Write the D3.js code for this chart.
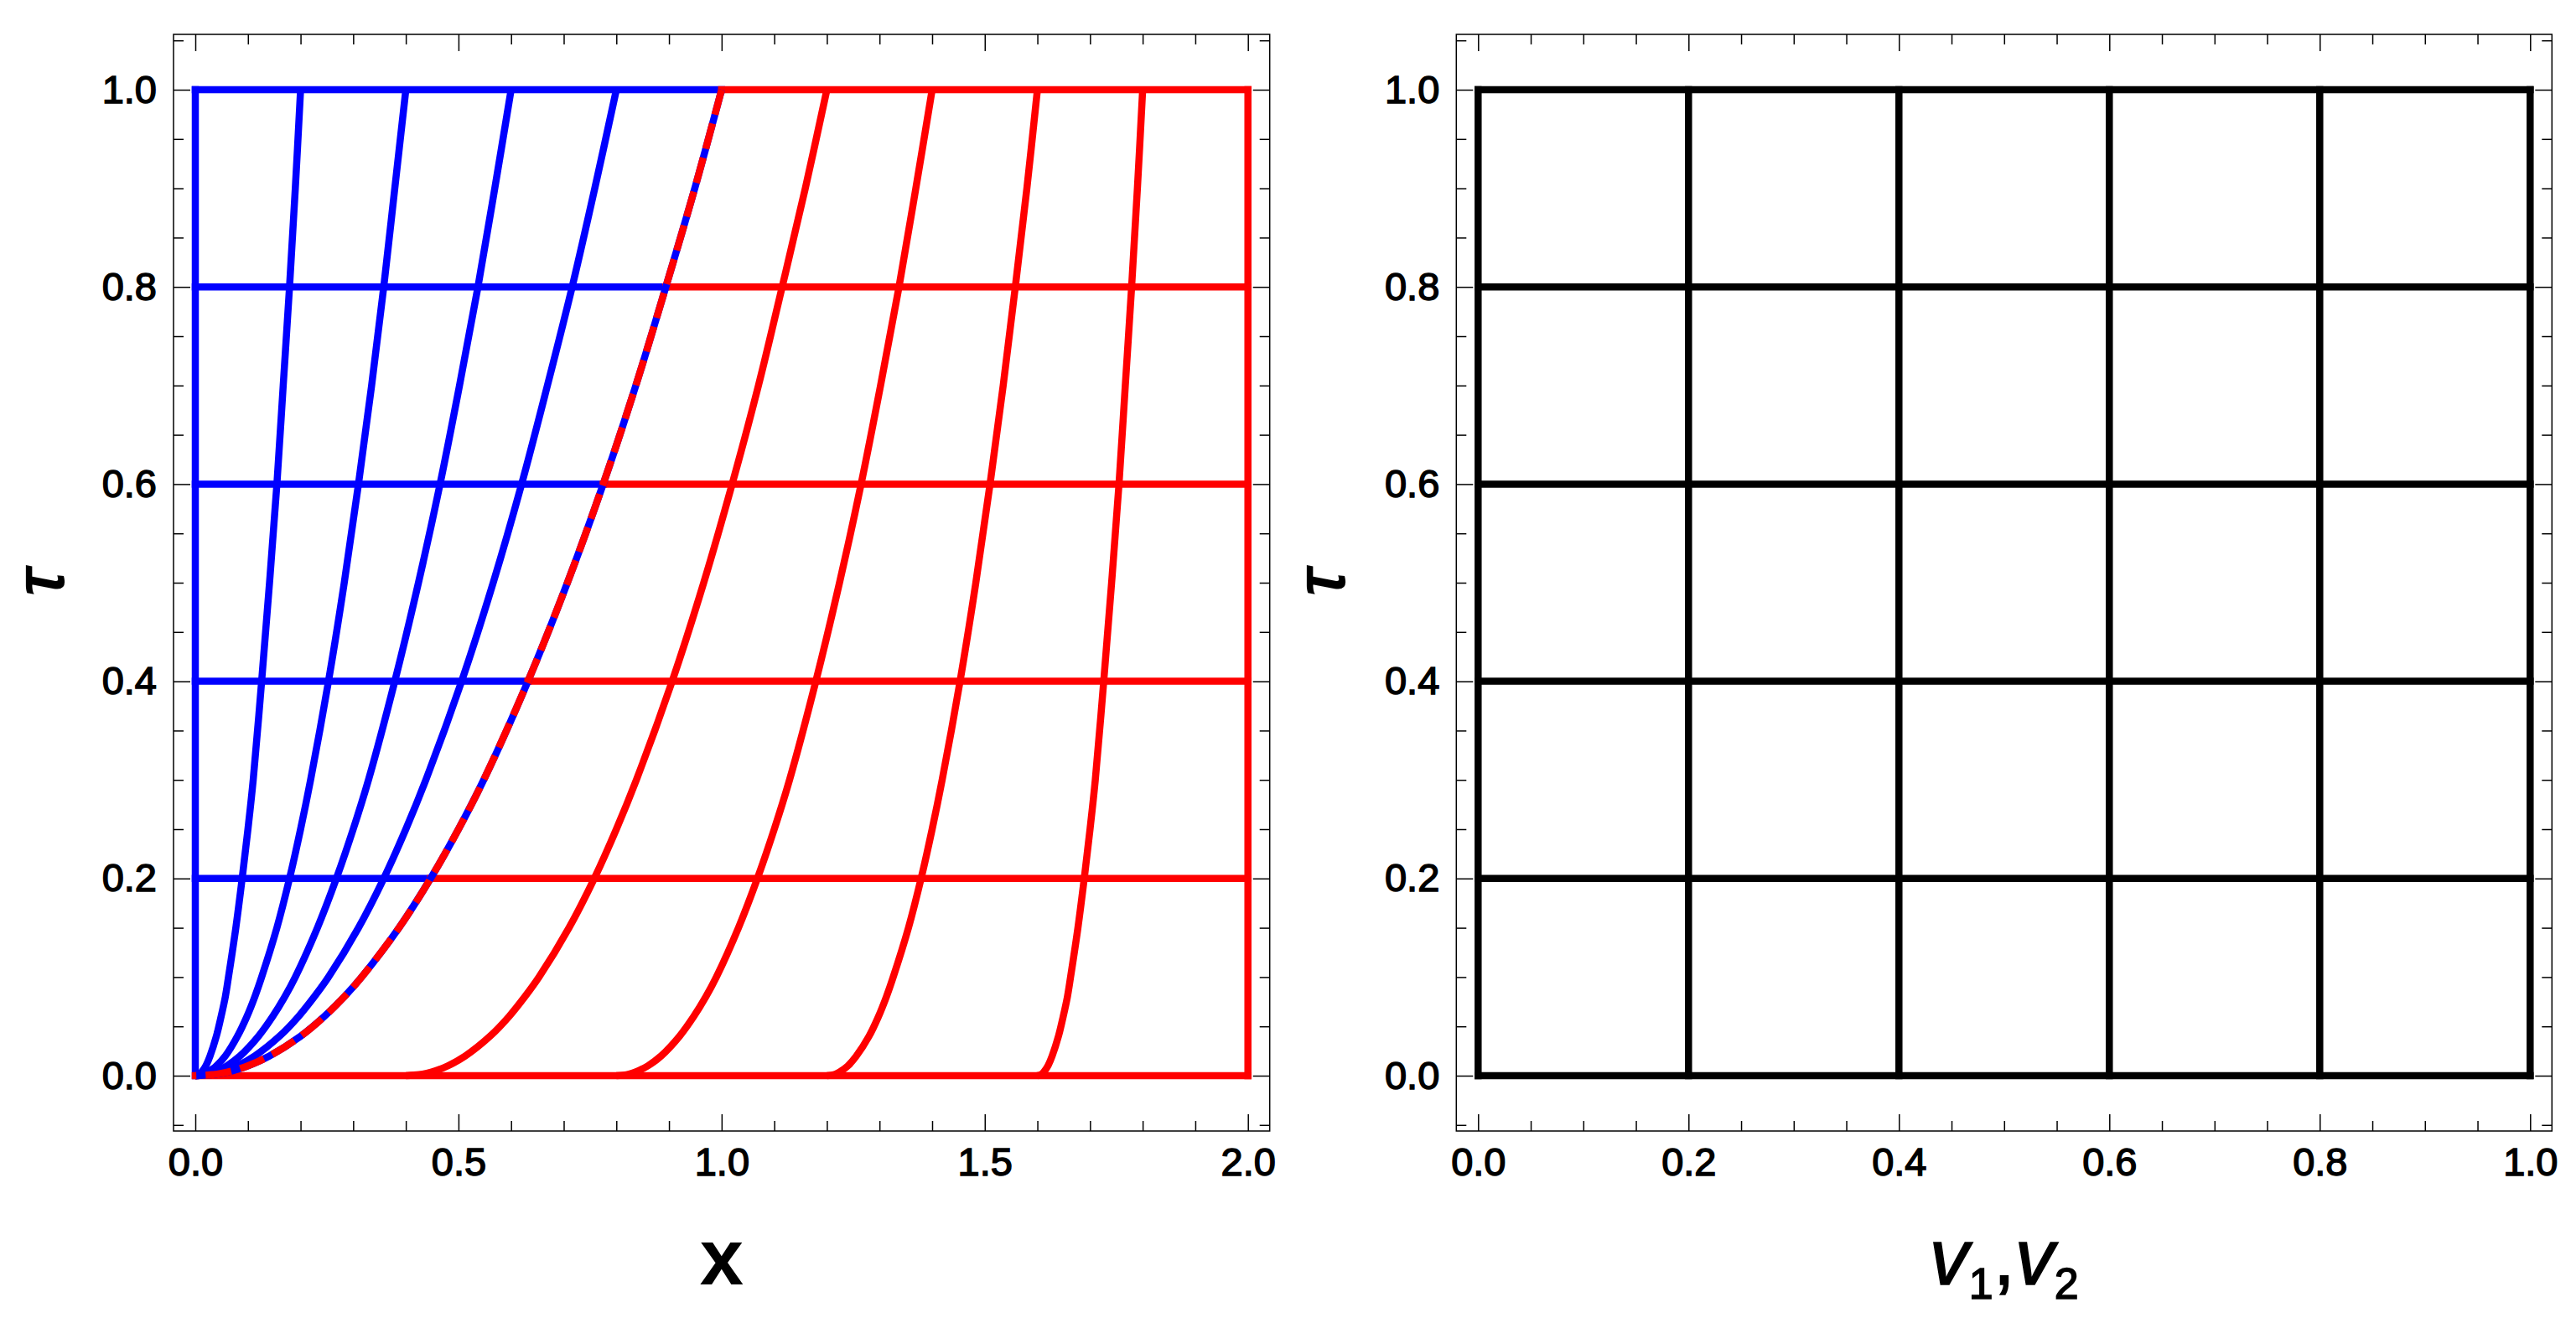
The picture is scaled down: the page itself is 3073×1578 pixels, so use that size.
<!DOCTYPE html>
<html>
<head>
<meta charset="utf-8">
<script src="https://cdn.jsdelivr.net/npm/d3@7"></script>
<style>
	body { margin: 0; background: #ffffff; }
	text { font-family: 'Liberation Sans', Arial, sans-serif; }
</style>
</head>
<body>
<svg id="chart"></svg>
<script>
// ========== DATA ==========
// tau values at which the curves were read off the picture
var tauSamples = [1.0, 0.9, 0.8, 0.7, 0.6, 0.5, 0.4, 0.3, 0.25, 0.2, 0.15, 0.1, 0.08, 0.06, 0.04, 0.02, 0.01, 0.005, 0.0025, 0.001, 0.0];

// blue curves (v1 = 0.2, 0.4, 0.6, 0.8), x at each tau sample
var blueCurveX = [
	[0.2, 0.19, 0.179, 0.167, 0.155, 0.141, 0.126, 0.11, 0.1, 0.089, 0.077, 0.063, 0.057, 0.049, 0.04, 0.028, 0.02, 0.014, 0.01, 0.006, 0.0],
	[0.4, 0.379, 0.358, 0.335, 0.31, 0.283, 0.253, 0.219, 0.2, 0.179, 0.155, 0.126, 0.113, 0.098, 0.08, 0.057, 0.04, 0.028, 0.02, 0.013, 0.0],
	[0.6, 0.569, 0.537, 0.502, 0.465, 0.424, 0.379, 0.329, 0.3, 0.268, 0.232, 0.19, 0.17, 0.147, 0.12, 0.085, 0.06, 0.042, 0.03, 0.019, 0.0],
	[0.8, 0.759, 0.716, 0.669, 0.62, 0.566, 0.506, 0.438, 0.4, 0.358, 0.31, 0.253, 0.226, 0.196, 0.16, 0.113, 0.08, 0.057, 0.04, 0.025, 0.0]
];

// shared boundary between the two regions (blue/red dashed)
var boundaryX = [1.0, 0.949, 0.894, 0.837, 0.775, 0.707, 0.632, 0.548, 0.5, 0.447, 0.387, 0.316, 0.283, 0.245, 0.2, 0.141, 0.1, 0.071, 0.05, 0.032, 0.0];

// red curves (v2 = 0.2, 0.4, 0.6, 0.8)
var redCurveX = [
	[1.2, 1.159, 1.115, 1.07, 1.02, 0.966, 0.906, 0.838, 0.8, 0.758, 0.71, 0.653, 0.626, 0.596, 0.56, 0.513, 0.48, 0.457, 0.44, 0.425, 0.4],
	[1.4, 1.369, 1.337, 1.302, 1.265, 1.224, 1.179, 1.129, 1.1, 1.068, 1.032, 0.99, 0.97, 0.947, 0.92, 0.885, 0.86, 0.842, 0.83, 0.819, 0.8],
	[1.6, 1.58, 1.558, 1.535, 1.51, 1.483, 1.453, 1.419, 1.4, 1.379, 1.355, 1.326, 1.313, 1.298, 1.28, 1.256, 1.24, 1.228, 1.22, 1.213, 1.2],
	[1.8, 1.79, 1.779, 1.767, 1.755, 1.741, 1.726, 1.71, 1.7, 1.689, 1.677, 1.663, 1.657, 1.649, 1.64, 1.628, 1.62, 1.614, 1.61, 1.606, 1.6]
];

// horizontal tau lines and where they meet the boundary
var tauLevels = [0.0, 0.2, 0.4, 0.6, 0.8, 1.0];
var boundaryAtLevel = [0.0, 0.447, 0.632, 0.775, 0.894, 1.0];
var rightEdgeX = 2.0;

// right panel grid
var gridValues = [0.0, 0.2, 0.4, 0.6, 0.8, 1.0];

// ticks
var leftXMajor = [0, 0.5, 1.0, 1.5, 2.0];
var leftXMinor = [0.1, 0.2, 0.3, 0.4, 0.6, 0.7, 0.8, 0.9, 1.1, 1.2, 1.3, 1.4, 1.6, 1.7, 1.8, 1.9];
var tauMajor = [0, 0.2, 0.4, 0.6, 0.8, 1.0];
var tauMinor = [-0.05, 0.05, 0.1, 0.15, 0.25, 0.3, 0.35, 0.45, 0.5, 0.55, 0.65, 0.7, 0.75, 0.85, 0.9, 0.95, 1.05];
var vMajor = [0, 0.2, 0.4, 0.6, 0.8, 1.0];
var vMinor = [0.05, 0.1, 0.15, 0.25, 0.3, 0.35, 0.45, 0.5, 0.55, 0.65, 0.7, 0.75, 0.85, 0.9, 0.95];

makeChart();

function makeChart() {
	// ========== CONSTANTS ==========
	var width = 3073;
	var height = 1578;
	var blue = '#0000ff';
	var red = '#ff0000';
	var black = '#000000';
	var lineWidth = 8.5;
	var padX = 26;
	var padY = 66;
	var majorTick = 20;
	var minorTick = 12;
	var textStroke = 1.5; // the reference text is drawn a bit heavier than regular

	var svg = d3.select('#chart')
		.attr('width', width)
		.attr('height', height);

	svg.append('rect')
		.attr('width', width)
		.attr('height', height)
		.attr('fill', '#ffffff');

	// ========== SCALES ==========
	var y = d3.scaleLinear().domain([0, 1]).range([1283, 107]);
	var xLeft = d3.scaleLinear().domain([0, 2]).range([233, 1488.7]);
	var xRight = d3.scaleLinear().domain([0, 1]).range([1763.3, 3018.3]);

	// ========== LEFT PANEL ==========
	var left = svg.append('g');

	var curve = function(xs) {
		return d3.line()
			.x(function(d) { return xLeft(d); })
			.y(function(d, i) { return y(tauSamples[i]); })
			.curve(d3.curveCatmullRom.alpha(0.5))(xs);
	};

	// blue horizontal lines, from x = 0 to the boundary
	left.selectAll('.blue-h')
		.data(tauLevels.slice(1)).enter().append('line')
			.attr('class', 'blue-h')
			.attr('x1', xLeft(0))
			.attr('x2', function(d, i) { return xLeft(boundaryAtLevel[i + 1]); })
			.attr('y1', function(d) { return y(d); })
			.attr('y2', function(d) { return y(d); })
			.attr('stroke', blue)
			.attr('stroke-width', lineWidth)
			.attr('stroke-linecap', 'square');

	// blue v1 = 0 line
	left.append('line')
		.attr('x1', xLeft(0))
		.attr('x2', xLeft(0))
		.attr('y1', y(0))
		.attr('y2', y(1))
		.attr('stroke', blue)
		.attr('stroke-width', lineWidth)
		.attr('stroke-linecap', 'square');

	left.selectAll('.blue-curve')
		.data(blueCurveX).enter().append('path')
			.attr('class', 'blue-curve')
			.attr('d', curve)
			.attr('fill', 'none')
			.attr('stroke', blue)
			.attr('stroke-width', lineWidth);

	// red horizontal lines, from the boundary to x = 2
	left.selectAll('.red-h')
		.data(tauLevels).enter().append('line')
			.attr('class', 'red-h')
			.attr('x1', function(d, i) { return xLeft(boundaryAtLevel[i]); })
			.attr('x2', xLeft(rightEdgeX))
			.attr('y1', function(d) { return y(d); })
			.attr('y2', function(d) { return y(d); })
			.attr('stroke', red)
			.attr('stroke-width', lineWidth)
			.attr('stroke-linecap', 'square');

	// red v2 = 1 line
	left.append('line')
		.attr('x1', xLeft(rightEdgeX))
		.attr('x2', xLeft(rightEdgeX))
		.attr('y1', y(0))
		.attr('y2', y(1))
		.attr('stroke', red)
		.attr('stroke-width', lineWidth)
		.attr('stroke-linecap', 'square');

	left.selectAll('.red-curve')
		.data(redCurveX).enter().append('path')
			.attr('class', 'red-curve')
			.attr('d', curve)
			.attr('fill', 'none')
			.attr('stroke', red)
			.attr('stroke-width', lineWidth);

	// boundary: blue underneath, red dashes on top
	left.append('path')
		.attr('d', curve(boundaryX))
		.attr('fill', 'none')
		.attr('stroke', blue)
		.attr('stroke-width', lineWidth);
	left.append('path')
		.attr('d', curve(boundaryX))
		.attr('fill', 'none')
		.attr('stroke', red)
		.attr('stroke-width', lineWidth)
		.style('stroke-dasharray', '31, 11');

	drawFrame(xLeft, leftXMajor, leftXMinor, tauMajor, tauMinor);

	// ========== RIGHT PANEL ==========
	var right = svg.append('g');

	right.selectAll('.grid-v')
		.data(gridValues).enter().append('line')
			.attr('class', 'grid-v')
			.attr('x1', function(d) { return xRight(d); })
			.attr('x2', function(d) { return xRight(d); })
			.attr('y1', y(0))
			.attr('y2', y(1))
			.attr('stroke', black)
			.attr('stroke-width', lineWidth)
			.attr('stroke-linecap', 'square');

	right.selectAll('.grid-h')
		.data(gridValues).enter().append('line')
			.attr('class', 'grid-h')
			.attr('x1', xRight(0))
			.attr('x2', xRight(1))
			.attr('y1', function(d) { return y(d); })
			.attr('y2', function(d) { return y(d); })
			.attr('stroke', black)
			.attr('stroke-width', lineWidth)
			.attr('stroke-linecap', 'square');

	drawFrame(xRight, vMajor, vMinor, tauMajor, tauMinor);

	// ========== LABELS ==========
	var labelSize = 94;

	svg.append('text')
		.attr('x', (xLeft(0) + xLeft(2)) / 2)
		.attr('y', 1532)
		.attr('text-anchor', 'middle')
		.style('font-size', labelSize + 'px')
		.style('font-weight', 'bold')
		.text('x');

	var vLabel = svg.append('text')
		.attr('x', (xRight(0) + xRight(1)) / 2)
		.attr('y', 1532)
		.attr('text-anchor', 'middle')
		.attr('stroke', black)
		.attr('stroke-width', textStroke)
		.style('font-size', labelSize + 'px');
	vLabel.append('tspan').style('font-style', 'italic').text('v');
	vLabel.append('tspan').attr('dy', 17).style('font-size', '52px').text('1');
	vLabel.append('tspan').attr('dy', -17).text(',');
	vLabel.append('tspan').style('font-style', 'italic').text('v');
	vLabel.append('tspan').attr('dy', 17).style('font-size', '52px').text('2');

	// tau labels, kept a little smaller so the rotated box stays inside the page
	[75, 1603].forEach(function(px) {
		svg.append('text')
			.attr('transform', 'translate(' + px + ',' + ((y(0) + y(1)) / 2) + ')rotate(-90)')
			.attr('text-anchor', 'middle')
			.attr('stroke', black)
			.attr('stroke-width', textStroke * 1.5)
			.style('font-size', '82px')
			.style('font-style', 'italic')
			.text('\u03c4');
	});

	// frame with inward ticks on all four sides, labels bottom and left
	function drawFrame(x, xMajor, xMinor, yMajor, yMinor) {
		var x0 = x.range()[0] - padX;
		var x1 = x.range()[1] + padX;
		var y0 = y.range()[1] - padY;
		var y1 = y.range()[0] + padY;
		var g = svg.append('g');
		var fmt = d3.format('.1f');

		var axes = [
			[d3.axisBottom(x), 'translate(0,' + y1 + ')', xMajor, xMinor, true],
			[d3.axisTop(x), 'translate(0,' + y0 + ')', xMajor, xMinor, false],
			[d3.axisLeft(y), 'translate(' + x0 + ',0)', yMajor, yMinor, true],
			[d3.axisRight(y), 'translate(' + x1 + ',0)', yMajor, yMinor, false]
		];

		axes.forEach(function(a) {
			var major = a[0].tickValues(a[2])
				.tickSizeInner(-majorTick)
				.tickSizeOuter(0)
				.tickPadding(20)
				.tickFormat(a[4] ? fmt : '');
			var gm = g.append('g')
				.attr('transform', a[1])
				.call(major);
			gm.select('.domain').remove();
			gm.selectAll('text')
				.attr('fill', black)
				.attr('stroke', black)
				.attr('stroke-width', textStroke)
				.style('font-family', "'Liberation Sans', Arial, sans-serif")
				.style('font-size', '47px');

			var minor = a[0].tickValues(a[3])
				.tickSizeInner(-minorTick)
				.tickFormat('');
			var gn = g.append('g')
				.attr('transform', a[1])
				.call(minor);
			gn.select('.domain').remove();
		});

		g.selectAll('.tick line')
			.attr('stroke', black)
			.attr('stroke-width', 1.5);

		g.append('rect')
			.attr('x', x0)
			.attr('y', y0)
			.attr('width', x1 - x0)
			.attr('height', y1 - y0)
			.attr('fill', 'none')
			.attr('stroke', black)
			.attr('stroke-width', 1.5);
	}
}
</script>
</body>
</html>
